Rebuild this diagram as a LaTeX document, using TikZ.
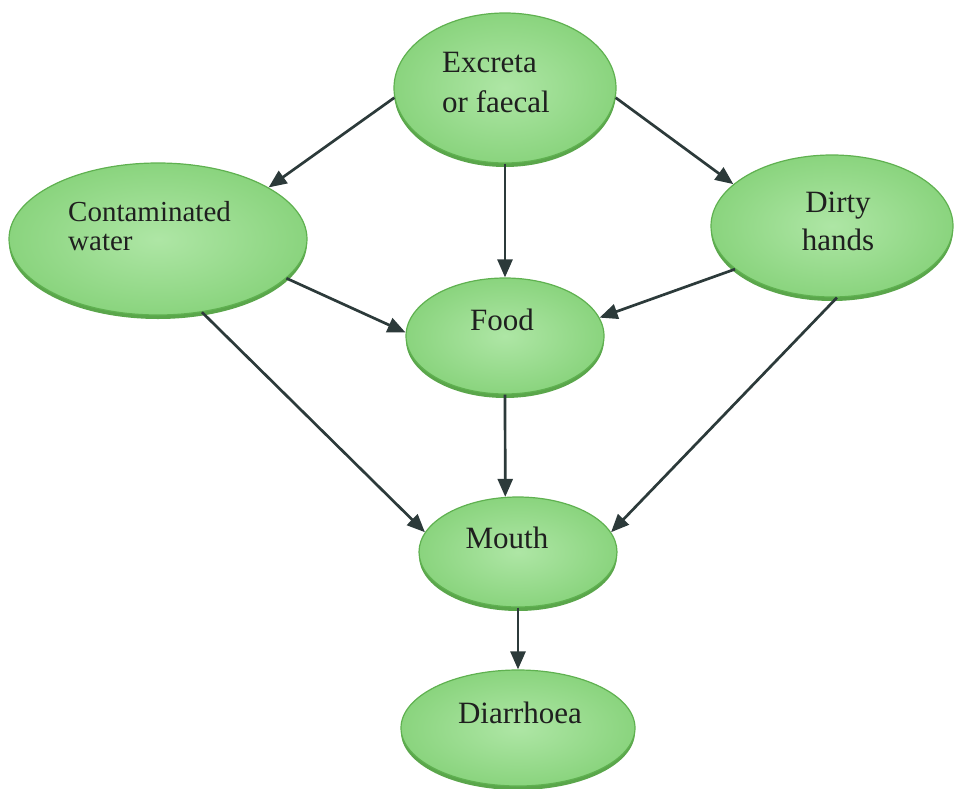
\documentclass[tikz,border=0pt]{standalone}
\usepackage{fontspec}
\setmainfont{Liberation Serif}
\usetikzlibrary{shapes.geometric,arrows.meta,shadows}
\definecolor{fillin}{HTML}{AEE6A5}
\definecolor{fillout}{HTML}{8AD47E}
\definecolor{edgegreen}{HTML}{5FB150}
\definecolor{rimgreen}{HTML}{5AA64B}
\definecolor{arrowcol}{HTML}{2C3A3A}
\tikzset{
  blob/.style={ellipse, draw=edgegreen, line width=1.2pt, inner sep=0pt,
    inner color=fillin, outer color=fillout,
    general shadow={fill=rimgreen, shadow yshift=-4pt}},
  lbl/.style={anchor=base, inner sep=0pt, font=\fontsize{31}{38}\selectfont, text=black!88},
  lbls/.style={anchor=base west, inner sep=0pt, font=\fontsize{29}{30}\selectfont, text=black!88},
  conn/.style={draw=arrowcol, line width=2.7pt, -{Triangle[length=18pt,width=15pt]}}
}
\begin{document}
\begin{tikzpicture}[x=1pt,y=-1pt]
\useasboundingbox (0,0) rectangle (956,788);
% ellipses
\node[blob, minimum width=222pt, minimum height=150pt] (ex) at (505,88) {};
\node[blob, minimum width=298pt, minimum height=152pt] (cw) at (158,239) {};
\node[blob, minimum width=242pt, minimum height=142pt] (dh) at (832,226) {};
\node[blob, minimum width=198pt, minimum height=116pt] (fd) at (505,336) {};
\node[blob, minimum width=198pt, minimum height=110pt] (mo) at (518,552) {};
\node[blob, minimum width=234pt, minimum height=116pt] (di) at (518,728) {};
% texts
\node[lbl, anchor=base west] (ex1) at (442,72) {Excreta};
\node[lbl, anchor=base west] (ex2) at (442,112) {or faecal};
\node[lbls] (cw1) at (68,221) {Contaminated};
\node[lbls] (cw2) at (68,250) {water};
\node[lbl] (dh1) at (838,212) {Dirty};
\node[lbl] (dh2) at (838,250) {hands};
\node[lbl] (fd1) at (502,330) {Food};
\node[lbl] (mo1) at (507,548) {Mouth};
\node[lbl] (di1) at (520,723) {Diarrhoea};
% connectors
\draw[conn] (ex.185) -- (cw.25);
\draw[conn] (ex.355) -- (dh.157);
\draw[conn] (ex.south) -- (fd.north);
\draw[conn] (cw.343) -- (fd.178);
\draw[conn] (cw.301) -- (mo.168);
\draw[conn] (dh.204) -- (fd.11);
\draw[conn] (dh.274) -- (mo.12);
\draw[conn] (fd.south) -- (mo.103);
\draw[conn] (mo.south) -- (di.north);
\end{tikzpicture}
\end{document}
